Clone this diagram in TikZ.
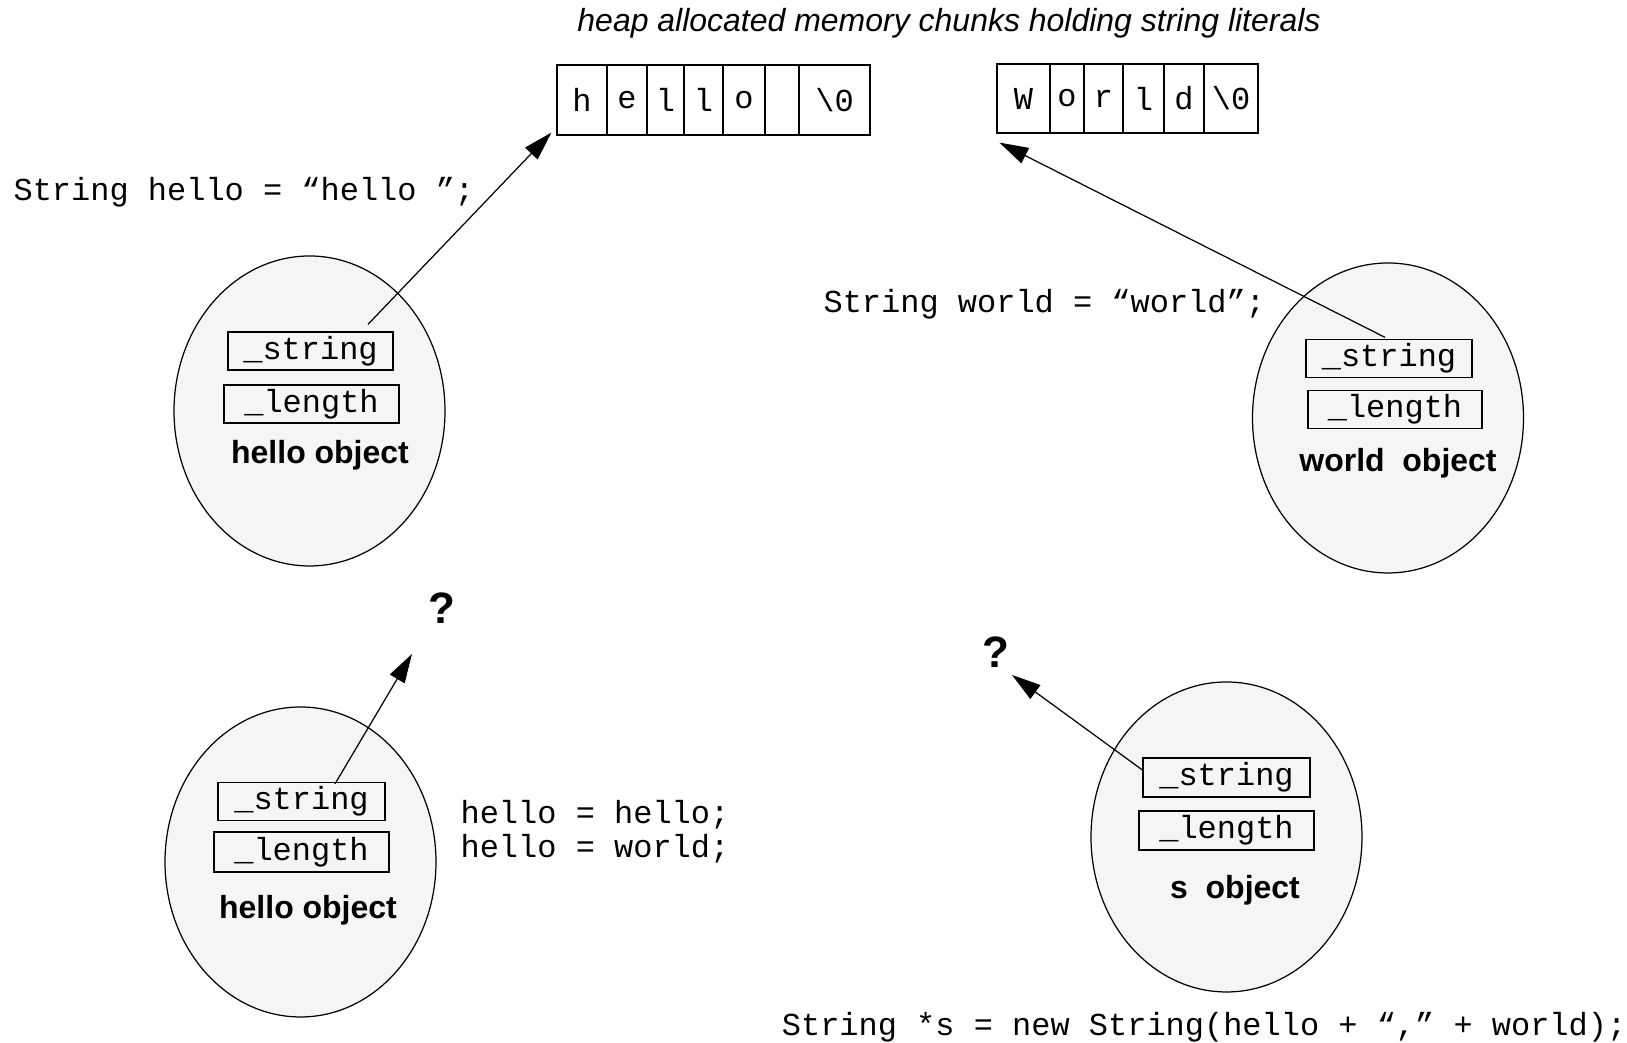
\documentclass[tikz,border=0pt]{standalone}
\usepackage{fontspec}
\setsansfont{Liberation Sans}
\setmonofont{Liberation Mono}
\usepackage{xcolor}
\usepackage{tikz}
\usetikzlibrary{arrows.meta,positioning,shapes.geometric}
\definecolor{objfill}{HTML}{F5F5F5}

\begin{document}
\begin{tikzpicture}[every node/.style={align=center, inner sep=0pt}, line width=0.35pt]
\tikzset{
  obj/.style={draw, ellipse, fill=objfill, minimum width=2.71cm, minimum height=3.1cm},
  field/.style={draw, minimum height=0.38cm, font=\fontsize{9.1pt}{11pt}\ttfamily},
  cell/.style={draw, minimum height=0.70cm, font=\fontsize{9.1pt}{11pt}\ttfamily},
  code/.style={font=\fontsize{9.1pt}{11pt}\ttfamily},
  objname/.style={font=\fontsize{9.1pt}{11pt}\sffamily\bfseries},
  unknown/.style={font=\fontsize{12.5pt}{14pt}\sffamily\bfseries},
  ptr/.style={-{Triangle[length=0.29cm,width=0.17cm]}}
}
\useasboundingbox (0,0) rectangle (16.27,10.43);
\node[font=\fontsize{9.1pt}{11pt}\sffamily\itshape] (title) at (9.49,10.20) {heap allocated memory chunks holding string literals};
\node[cell, minimum width=0.50cm] (h1) at (5.82,9.43) {h};
\node[cell, minimum width=0.40cm] (h2) at (6.27,9.43) {e};
\node[cell, minimum width=0.37cm] (h3) at (6.655,9.43) {l};
\node[cell, minimum width=0.39cm] (h4) at (7.035,9.43) {l};
\node[cell, minimum width=0.42cm] (h5) at (7.44,9.43) {o};
\node[cell, minimum width=0.34cm] (h6) at (7.82,9.43) {};
\node[cell, minimum width=0.71cm] (h7) at (8.345,9.43) {\textbackslash 0};
\node[cell, minimum width=0.53cm, minimum height=0.69cm] (w1) at (10.235,9.445) {W};
\node[cell, minimum width=0.34cm, minimum height=0.69cm] (w2) at (10.67,9.445) {o};
\node[cell, minimum width=0.39cm, minimum height=0.69cm] (w3) at (11.035,9.445) {r};
\node[cell, minimum width=0.41cm, minimum height=0.69cm] (w4) at (11.435,9.445) {l};
\node[cell, minimum width=0.40cm, minimum height=0.69cm] (w5) at (11.84,9.445) {d};
\node[cell, minimum width=0.54cm, minimum height=0.69cm] (w6) at (12.31,9.445) {\textbackslash 0};
\node[code, anchor=west] (declhello) at (0.13,8.51) {String hello = “hello ”;};
\node[code, anchor=west] (declworld) at (8.23,7.39) {String world = “world”;};
\node[obj] (helloobj) at (3.095,6.32) {};
\node[field, minimum width=1.65cm] (hstr) at (3.105,6.92) {\_string};
\node[field, minimum width=1.75cm] (hlen) at (3.115,6.39) {\_length};
\node[objname] at (3.20,5.88) {hello object};
\node[obj] (worldobj) at (13.88,6.25) {};
\node[field, minimum width=1.66cm] (wstr) at (13.89,6.845) {\_string};
\node[field, minimum width=1.74cm] (wlen) at (13.95,6.335) {\_length};
\node[objname] at (13.98,5.80) {world\ \ object};
\node[obj] (hello2obj) at (3.005,1.81) {};
\node[field, minimum width=1.67cm] (h2str) at (3.015,2.415) {\_string};
\node[field, minimum width=1.75cm, minimum height=0.40cm] (h2len) at (3.015,1.91) {\_length};
\node[objname] at (3.08,1.33) {hello object};
\node[unknown] (q1) at (4.42,4.35) {?};
\node[code, anchor=west] (assign1) at (4.60,2.285) {hello = hello;};
\node[code, anchor=west] (assign2) at (4.60,1.94) {hello = world;};
\node[obj] (sobj) at (12.265,2.06) {};
\node[field, minimum width=1.67cm, minimum height=0.39cm] (sstr) at (12.265,2.655) {\_string};
\node[field, minimum width=1.75cm, minimum height=0.39cm] (slen) at (12.265,2.125) {\_length};
\node[objname] at (12.35,1.53) {s\ \ object};
\node[unknown] (q2) at (9.96,3.91) {?};
\node[code, anchor=east] (decls) at (16.27,0.16) {String *s = new String(hello + “,” + world);};
\draw[ptr] ([shift={(0.575,0.07)}]hstr.north) -- ([shift={(-0.05,0.03)}]h1.south west);
\draw[ptr] ([shift={(-0.04,0.015)}]wstr.north) -- ([shift={(0.03,-0.09)}]w1.south west);
\draw[ptr] ([shift={(0.335,-0.02)}]h2str.north) -- ([shift={(-0.30,-0.46)}]q1.center);
\draw[ptr] ([yshift=0.075cm]sstr.west) -- ([shift={(0.16,-0.23)}]q2.center);
\end{tikzpicture}
\end{document}
